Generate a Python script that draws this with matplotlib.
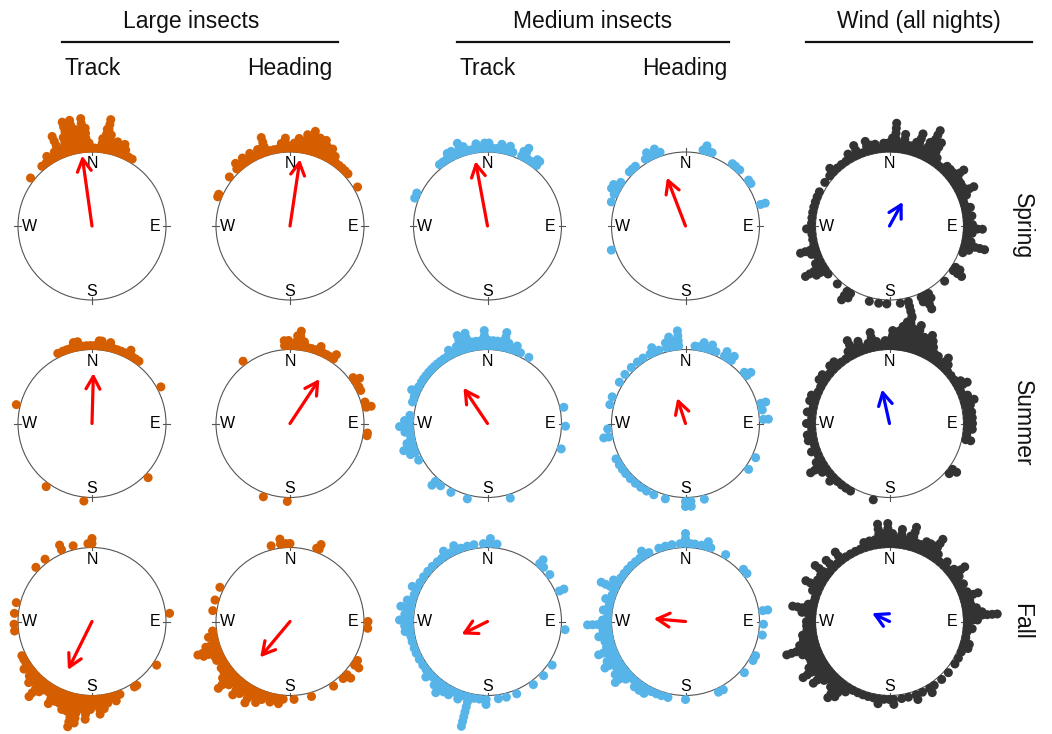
import matplotlib
matplotlib.use("Agg")
import numpy as np
import matplotlib.pyplot as plt
from matplotlib.patches import Circle

plt.rcParams['font.family'] = ['Liberation Sans', 'DejaVu Sans']

# ---- observations: (compass bearing in degrees, number of stacked records) ----
spring_large_track = [(-52, 1), (-40, 1), (-36, 1), (-33, 2), (-30, 1), (-27, 2), (-24, 5), (-21, 2),
                      (-18, 4), (-16, 7), (-14, 5), (-12, 7), (-10, 5), (-8, 4), (-6, 7), (-4, 5),
                      (-2, 2), (0, 1), (2, 1), (5, 1), (7, 3), (9, 5), (10, 7), (12, 4), (14, 2),
                      (17, 3), (19, 2), (22, 3), (24, 2), (26, 1), (28, 1), (31, 1)]
spring_large_heading = [(-68, 1), (-66, 1), (-51, 1), (-43, 1), (-41, 2), (-38, 1), (-35, 2), (-32, 1),
                        (-29, 2), (-26, 1), (-23, 2), (-20, 2), (-18, 4), (-15, 1), (-12, 1), (-9, 1),
                        (-6, 2), (-3, 3), (0, 1), (3, 2), (6, 3), (9, 2), (11, 4), (13, 3), (15, 5),
                        (17, 3), (19, 4), (21, 3), (23, 4), (25, 3), (27, 2), (29, 3), (31, 2), (33, 2),
                        (36, 1), (39, 1), (42, 1), (45, 1), (48, 1), (60, 1)]
spring_medium_track = [(-69, 1), (-65, 1), (-38, 1), (-35, 1), (-32, 1), (-29, 2), (-26, 2), (-23, 1),
                       (-20, 3), (-17, 2), (-14, 1), (-11, 1), (-8, 2), (-5, 1), (-2, 2), (1, 2), (4, 1),
                       (7, 1), (10, 2), (13, 1), (16, 2), (19, 1), (26, 2), (28, 3), (31, 1), (34, 1),
                       (37, 2), (39, 2)]
spring_medium_heading = [(-108, 1), (-72, 1), (-66, 1), (-63, 2), (-60, 2), (-56, 1), (-46, 1), (-43, 1),
                         (-40, 1), (-31, 1), (-28, 2), (-25, 1), (-22, 2), (-19, 1), (13, 1), (15, 2),
                         (18, 1), (20, 1), (37, 1), (40, 1), (44, 1), (54, 1), (57, 1), (74, 2)]
spring_wind = [(-178, 1), (-172, 1), (-165, 1), (-150, 2), (-147, 3), (-138, 1), (-128, 1), (-124, 3),
               (-121, 5), (-117, 2), (-113, 1), (-110, 2), (-107, 4), (-104, 1), (-100, 1), (-96, 1),
               (-92, 2), (-88, 1), (-84, 1), (-80, 1), (-76, 1), (-72, 1), (-68, 1), (-64, 1), (-56, 1),
               (-50, 1), (-46, 2), (-42, 1), (-38, 1), (-34, 1), (-30, 2), (-26, 1), (-24, 3), (-20, 1),
               (-16, 3), (-13, 2), (-10, 2), (-7, 1), (-4, 2), (-1, 2), (2, 3), (4, 6), (7, 2), (10, 4),
               (12, 2), (15, 2), (18, 3), (20, 5), (23, 2), (26, 4), (28, 7), (30, 4), (32, 5), (35, 2),
               (38, 1), (41, 1), (44, 2), (47, 2), (50, 2), (53, 4), (56, 2), (59, 2), (62, 2), (65, 4),
               (68, 2), (71, 1), (74, 1), (77, 2), (80, 1), (83, 2), (86, 1), (89, 2), (92, 4), (95, 2),
               (98, 1), (101, 2), (104, 5), (107, 2), (110, 1), (122, 2), (125, 3), (135, 1), (150, 2),
               (153, 4), (156, 2), (166, 4), (172, 1)]

summer_large_track = [(-76, 1), (-26, 1), (-22, 1), (-19, 1), (-16, 1), (-13, 2), (-10, 2), (-7, 1),
                      (-4, 1), (-1, 1), (2, 1), (5, 2), (7, 2), (10, 1), (13, 2), (16, 1), (19, 1),
                      (22, 1), (25, 1), (28, 2), (31, 1), (34, 1), (37, 1), (62, 1), (134, 1),
                      (186, 1), (216, 1)]
summer_large_heading = [(-37, 1), (-4, 2), (-1, 2), (2, 1), (5, 3), (7, 4), (10, 2), (13, 1), (16, 1),
                        (19, 1), (22, 2), (25, 1), (28, 1), (31, 1), (34, 2), (54, 1), (57, 2), (62, 1),
                        (65, 1), (74, 1), (78, 2), (97, 1), (99, 1), (182, 1), (200, 1)]
summer_medium_track = [(-165, 1), (-152, 1), (-143, 1), (-138, 2), (-118, 1), (-112, 2), (-108, 3),
                       (-104, 2), (-100, 1), (-96, 2), (-92, 3), (-88, 2), (-84, 1), (-74, 1), (-70, 1),
                       (-66, 2), (-62, 1), (-58, 1), (-55, 1), (-52, 1), (-49, 1), (-46, 1), (-43, 1),
                       (-40, 1), (-37, 1), (-34, 1), (-31, 1), (-28, 2), (-25, 1), (-22, 2), (-19, 4),
                       (-16, 2), (-14, 4), (-11, 2), (-8, 2), (-5, 2), (-2, 4), (1, 2), (4, 2), (7, 2),
                       (10, 2), (12, 4), (15, 2), (18, 1), (21, 2), (25, 1), (32, 1), (78, 1), (92, 1),
                       (109, 1), (163, 1)]
summer_medium_heading = [(180, 2), (176, 2), (166, 1), (-165, 1), (-156, 1), (-150, 1), (-145, 1),
                         (-140, 1), (-135, 1), (-130, 1), (-126, 1), (-122, 1), (-117, 1), (-100, 2),
                         (-94, 1), (-76, 1), (-70, 1), (-58, 1), (-51, 1), (-44, 1), (-38, 1), (-33, 1),
                         (-27, 1), (-24, 2), (-20, 1), (-14, 2), (-11, 3), (-8, 2), (-5, 4), (7, 1),
                         (10, 1), (13, 2), (16, 1), (19, 2), (23, 1), (30, 2), (33, 1), (36, 2), (49, 1),
                         (52, 2), (75, 2), (80, 1), (87, 2), (116, 1), (126, 1)]
summer_wind = [(-168, 1), (-150, 1), (-146, 1), (-142, 1), (-138, 1), (-134, 2), (-130, 1), (-126, 2),
               (-122, 4), (-118, 2), (-114, 1), (-110, 2), (-106, 1), (-102, 2), (-98, 2), (-94, 1),
               (-90, 2), (-86, 1), (-82, 2), (-78, 1), (-74, 2), (-70, 2), (-66, 1), (-62, 1), (-58, 2),
               (-54, 2), (-50, 1), (-46, 2), (-42, 2), (-38, 1), (-34, 1), (-30, 2), (-27, 4), (-24, 2),
               (-21, 3), (-18, 1), (-15, 2), (-12, 4), (-9, 2), (-6, 1), (-3, 2), (0, 2), (2, 4), (4, 3),
               (6, 4), (8, 5), (10, 6), (12, 7), (14, 5), (16, 4), (18, 6), (20, 3), (22, 4), (24, 3),
               (26, 5), (28, 4), (30, 3), (33, 2), (36, 2), (39, 1), (42, 3), (45, 2), (48, 1), (52, 1),
               (56, 1), (59, 2), (62, 3), (66, 1), (70, 2), (74, 3), (77, 2), (82, 2), (86, 2), (90, 2),
               (94, 2), (98, 1), (102, 2), (126, 2), (130, 1)]

fall_large_track = [(-3, 1), (0, 2), (-14, 1), (-23, 2), (-37, 1), (-46, 1), (-76, 1), (-84, 1), (-92, 1),
                    (-97, 1), (84, 1), (124, 1), (145, 1), (147, 1), (159, 1), (163, 2), (166, 1),
                    (169, 2), (172, 3), (175, 4), (178, 2), (-179, 3), (-176, 5), (-173, 3), (-170, 6),
                    (-167, 7), (-164, 4), (-161, 4), (-158, 3), (-155, 3), (-152, 4), (-149, 2),
                    (-146, 2), (-143, 3), (-140, 5), (-137, 2), (-134, 3), (-131, 2), (-128, 1),
                    (-125, 2), (-122, 1), (-119, 1), (-116, 1)]
fall_large_heading = [(-7, 2), (-14, 1), (-3, 1), (0, 1), (20, 1), (22, 2), (-64, 1), (-74, 1), (-82, 1),
                      (-97, 1), (-101, 2), (-104, 1), (-107, 3), (-110, 5), (-112, 4), (-115, 2),
                      (-118, 2), (-121, 1), (-124, 2), (-127, 2), (-130, 3), (-133, 5), (-136, 3),
                      (-139, 2), (-142, 4), (-145, 3), (-148, 2), (-151, 4), (-154, 2), (-157, 3),
                      (-160, 2), (-163, 1), (-166, 2), (-169, 1), (-172, 2), (-175, 1), (177, 1),
                      (164, 1), (146, 1), (137, 1), (133, 2), (124, 2), (120, 1), (90, 1), (95, 1)]
fall_medium_track = [(-3, 1), (2, 2), (7, 1), (-10, 1), (-15, 1), (-20, 1), (-24, 2), (-28, 1), (-32, 2),
                     (-36, 1), (-40, 1), (-45, 1), (-50, 1), (-55, 1), (-60, 1), (-65, 2), (-70, 1),
                     (-75, 2), (-80, 3), (-85, 2), (-89, 3), (-93, 2), (-97, 2), (-101, 1), (-105, 1),
                     (-110, 1), (-114, 1), (-119, 1), (-124, 1), (-128, 1), (-132, 2), (-136, 1),
                     (-140, 2), (-144, 3), (-148, 2), (-152, 2), (-156, 1), (-159, 2), (-163, 1),
                     (-166, 7), (-170, 1), (-174, 1), (-179, 2), (172, 1), (166, 1), (158, 1), (144, 1),
                     (134, 1), (124, 1), (96, 1), (67, 2), (53, 1), (46, 1), (42, 2)]
fall_medium_heading = [(0, 3), (4, 1), (7, 1), (-4, 1), (-10, 1), (-15, 1), (-20, 1), (-28, 1), (-32, 2),
                       (-36, 1), (-40, 1), (-44, 1), (-48, 1), (-52, 1), (-56, 1), (-60, 2), (-65, 4),
                       (-70, 1), (-74, 2), (-78, 1), (-82, 2), (-86, 1), (-89, 2), (-92, 5), (-96, 2),
                       (-100, 3), (-104, 2), (-108, 2), (-111, 4), (-114, 2), (-117, 3), (-120, 4),
                       (-124, 2), (-127, 3), (-131, 4), (-134, 2), (-138, 1), (-142, 2), (-146, 2),
                       (-150, 2), (-154, 1), (-158, 1), (-162, 1), (-167, 1), (180, 1), (155, 1),
                       (151, 1), (131, 1), (120, 1), (116, 1), (100, 1), (92, 1), (82, 2), (52, 1),
                       (48, 1), (31, 1), (19, 1), (16, 2), (12, 1)]
fall_wind = [(-176, 1), (-172, 2), (-168, 1), (-164, 1), (-160, 1), (-156, 1), (-152, 1), (-148, 2),
             (-144, 4), (-141, 5), (-138, 3), (-135, 2), (-132, 3), (-129, 5), (-126, 3), (-123, 6),
             (-120, 4), (-117, 3), (-114, 3), (-111, 4), (-108, 7), (-105, 4), (-102, 3), (-99, 3),
             (-96, 2), (-93, 2), (-90, 2), (-87, 1), (-84, 3), (-81, 5), (-78, 2), (-75, 1), (-72, 1),
             (-68, 2), (-64, 4), (-60, 2), (-56, 2), (-53, 4), (-50, 1), (-46, 3), (-42, 1), (-38, 3),
             (-34, 1), (-30, 1), (-26, 1), (-22, 1), (-18, 2), (-14, 2), (-10, 2), (-7, 5), (-4, 3),
             (-1, 5), (2, 3), (5, 2), (8, 4), (11, 2), (14, 3), (16, 5), (19, 2), (22, 2), (25, 3),
             (28, 3), (31, 3), (33, 5), (36, 2), (40, 1), (44, 2), (48, 1), (51, 2), (54, 4), (57, 2),
             (60, 1), (63, 2), (66, 1), (69, 2), (72, 4), (75, 2), (78, 2), (81, 3), (84, 4), (86, 7),
             (89, 3), (92, 1), (95, 2), (98, 1), (102, 1), (106, 2), (109, 2), (113, 1), (118, 1),
             (123, 1), (131, 1), (138, 1), (145, 1), (149, 2), (155, 1), (160, 2), (166, 1), (171, 1),
             (177, 2), (180, 1)]

# mean direction (deg) and mean resultant length of each panel: rows = seasons
mean_dir = [[352.0, 8.5, 349.5, 339.0, 28.7],
            [1.6, 33.5, 326.0, 342.0, 347.5],
            [206.4, 219.8, 243.6, 275.0, 295.5]]
mean_len = [[0.96, 0.91, 0.89, 0.70, 0.37],
            [0.68, 0.72, 0.58, 0.36, 0.47],
            [0.73, 0.63, 0.39, 0.43, 0.26]]

seasons = ["Spring", "Summer", "Fall"]
panels = [[spring_large_track, spring_large_heading, spring_medium_track, spring_medium_heading, spring_wind],
          [summer_large_track, summer_large_heading, summer_medium_track, summer_medium_heading, summer_wind],
          [fall_large_track, fall_large_heading, fall_medium_track, fall_medium_heading, fall_wind]]

group_titles = ["Large insects", "Medium insects", "Wind (all nights)"]
sub_titles = ["Track", "Heading", "Track", "Heading"]

# ---- styling ----
W, H = 1052, 734
col_x = [92, 290, 487.5, 685.5, 889.5]
row_y = [226, 423.5, 621.5]
R_PX = 74.0
dot_colors = ["#D55E00", "#D55E00", "#56B4E9", "#56B4E9", "#333333"]
arrow_colors = ["#FF0000", "#FF0000", "#FF0000", "#FF0000", "#0000FF"]
first_r = 1.0 + 4.0 / R_PX
step_r = 5.0 / R_PX

fig = plt.figure(figsize=(W / 100, H / 100), dpi=100)


def fx(px):
    return px / W


def fy(py):
    return 1 - py / H


half = 125
for i in range(3):
    for j in range(5):
        cx, cy = col_x[j], row_y[i]
        ax = fig.add_axes([fx(cx - half), fy(cy + half), 2 * half / W, 2 * half / H])
        lim = half / R_PX
        ax.set_xlim(-lim, lim)
        ax.set_ylim(-lim, lim)
        ax.set_aspect('equal')
        ax.axis('off')

        ax.add_patch(Circle((0, 0), 1.0, fill=False, lw=0.8, ec='#555555', zorder=2))
        for a, lab in zip([0, 90, 180, 270], ["N", "E", "S", "W"]):
            t = np.deg2rad(a)
            ax.plot([0.96 * np.sin(t), 1.05 * np.sin(t)], [0.96 * np.cos(t), 1.05 * np.cos(t)],
                    color='#555555', lw=0.8, zorder=2)
            rr = 0.84 if a in (0, 180) else 0.85
            ax.text(rr * np.sin(t), rr * np.cos(t) - (0.04 if a == 180 else 0.0), lab,
                    ha='center', va='center', fontsize=11.5, color='#000000', zorder=4)

        xs, ys = [], []
        for ang, n in panels[i][j]:
            t = np.deg2rad(ang)
            for k in range(n):
                r = first_r + k * step_r
                xs.append(r * np.sin(t))
                ys.append(r * np.cos(t))
        ax.scatter(xs, ys, s=42, c=dot_colors[j], edgecolors='none', clip_on=False, zorder=3)

        t = np.deg2rad(mean_dir[i][j])
        L = mean_len[i][j]
        ax.annotate('', xy=(L * np.sin(t), L * np.cos(t)), xytext=(0, 0),
                    arrowprops=dict(arrowstyle='->,head_length=0.9,head_width=0.5',
                                    color=arrow_colors[j], lw=2.3, shrinkA=0, shrinkB=0,
                                    mutation_scale=10), zorder=5)

# column headers
group_centers = [191, 593, 919]
group_lines = [(62, 338), (457, 729), (806, 1032)]
for title, xc, (x0, x1) in zip(group_titles, group_centers, group_lines):
    fig.text(fx(xc), fy(28), title, ha='center', va='baseline', fontsize=16.5, color='#111111')
    fig.add_artist(plt.Line2D([fx(x0), fx(x1)], [fy(42), fy(42)], color='#111111', lw=1.6))

sub_centers = [92.5, 290, 488, 685]
for lab, xc in zip(sub_titles, sub_centers):
    fig.text(fx(xc), fy(75), lab, ha='center', va='baseline', fontsize=16.5, color='#111111')

for season, yc in zip(seasons, row_y):
    fig.text(fx(1022), fy(yc), season, ha='center', va='center', rotation=270,
             fontsize=16.5, color='#111111')

fig.savefig("out.png", dpi=100, facecolor='white')
